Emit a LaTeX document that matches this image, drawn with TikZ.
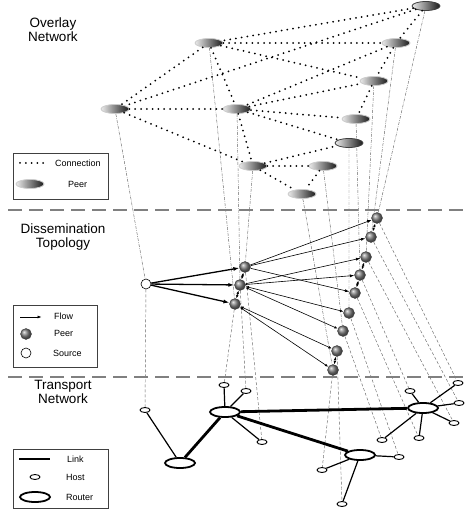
\documentclass[tikz,border=0pt]{standalone}
\usepackage{fontspec}
\setmainfont{Liberation Sans}
\usetikzlibrary{arrows.meta,shapes.geometric,backgrounds}

\tikzset{
  peer/.style={ellipse, minimum width=28pt, minimum height=9pt, inner sep=0pt,
    left color=black!8, right color=black!90, draw=black!20, line width=0.8pt},
  hlpeer/.style={peer, draw=black!75},
  dpeer/.style={circle, minimum size=11pt, inner sep=0pt, ball color=black!50,
    draw=black!75, line width=0.4pt},
  srcnode/.style={circle, minimum size=10pt, inner sep=0pt, draw, fill=white, line width=0.6pt},
  host/.style={ellipse, minimum width=10pt, minimum height=5pt, inner sep=0pt,
    draw, fill=white, line width=0.9pt},
  router/.style={ellipse, minimum width=30pt, minimum height=10pt, inner sep=0pt,
    draw, fill=white, line width=1.8pt},
  conn/.style={line width=2pt, dash pattern=on 0pt off 5.8pt, line cap=round},
  flow/.style={line width=0.6pt, -{Latex[length=4.5pt,width=3pt]}},
  dflow/.style={line width=0.6pt, {Latex[length=3.5pt,width=2.6pt]}-{Latex[length=3.5pt,width=2.6pt]}},
  bigflow/.style={line width=1.3pt, -{Latex[length=6pt,width=4pt]}},
  upproj/.style={black!60, line width=0.45pt, dash pattern=on 3pt off 1.2pt on 0.6pt off 1.2pt},
  downproj/.style={black!60, line width=0.45pt, dash pattern=on 3pt off 2pt},
  lnk/.style={line width=1.2pt},
  biglnk/.style={line width=2.8pt},
  layersep/.style={black!50, line width=1.5pt, dash pattern=on 14pt off 7pt},
  ttl/.style={align=center, inner sep=0pt, anchor=north, font=\fontsize{13.5}{13.8}\selectfont},
  lbl/.style={inner sep=0pt, anchor=west, font=\fontsize{9}{10}\selectfont},
  keybox/.style={draw=black!75, line width=0.8pt}
}

\begin{document}
\begin{tikzpicture}[x=1pt, y=-1pt]
  \useasboundingbox (0,0) rectangle (466,510);

  \node[ttl] (t1) at (53,18) {Overlay\\Network};
  \node[ttl] (t2) at (63,224) {Dissemination\\Topology};
  \node[ttl] (t3) at (63,380) {Transport\\Network};

  \coordinate (s1a) at (8,210);
  \coordinate (s1b) at (466,210);
  \coordinate (s2a) at (8,377);
  \coordinate (s2b) at (466,377);
  \draw[layersep] (s1a) -- (s1b);
  \draw[layersep] (s2a) -- (s2b);

  \node[hlpeer] (o1) at (426,6) {};
  \node[peer] (o2) at (209,43) {};
  \node[peer] (o3) at (396,43) {};
  \node[peer] (o4) at (115,109) {};
  \node[peer] (o5) at (237,109) {};
  \node[peer] (o6) at (374,81) {};
  \node[peer] (o7) at (356,119) {};
  \node[hlpeer] (o8) at (349,143) {};
  \node[peer] (o9) at (253,166) {};
  \node[peer] (o10) at (323,166) {};
  \node[peer] (o11) at (302,194) {};

  \draw[conn] (o1) -- (o2) (o1) -- (o4) (o1) -- (o3) (o2) -- (o3) (o2) -- (o6)
    (o2) -- (o5) (o2) -- (o4) (o3) -- (o6) (o3) -- (o5) (o5) -- (o6)
    (o6) -- (o7) (o4) -- (o5) (o5) -- (o7) (o5) -- (o8) (o5) -- (o9)
    (o4) -- (o9) (o9) -- (o10) (o9) -- (o8) (o9) -- (o11) (o10) -- (o11);

  \node[srcnode] (s) at (146,284) {};
  \node[dpeer] (d1) at (245,267) {};
  \node[dpeer] (d2) at (240,285) {};
  \node[dpeer] (d3) at (235,304) {};
  \node[dpeer] (r1) at (377,218) {};
  \node[dpeer] (r2) at (371,237) {};
  \node[dpeer] (r3) at (366,257) {};
  \node[dpeer] (r4) at (360,275) {};
  \node[dpeer] (r5) at (355,293) {};
  \node[dpeer] (r6) at (349,313) {};
  \node[dpeer] (r7) at (343,331) {};
  \node[dpeer] (r8) at (337,351) {};
  \node[dpeer] (r9) at (333,370) {};

  \draw[bigflow] (s) -- (d1);
  \draw[bigflow] (s) -- (d2);
  \draw[bigflow] (s) -- (d3);
  \draw[flow] (d1) -- (r1);
  \draw[flow] (d1) -- (r2);
  \draw[flow] (d1) -- (r5);
  \draw[flow] (d2) -- (r3);
  \draw[flow] (d2) -- (r4);
  \draw[dflow] (d2) -- (r6);
  \draw[dflow] (d2) -- (r7);
  \draw[dflow] (d3) -- (r8);
  \draw[dflow] (d3) -- (r9);
  \draw[dflow] (d1) -- (d2);
  \draw[dflow] (d2) -- (d3);
  \draw[dflow] (r1) -- (r2);
  \draw[dflow] (r3) -- (r4);
  \draw[dflow] (r4) -- (r5);
  \draw[dflow] (r8) -- (r9);

  \node[router] (ra) at (180,463) {};
  \node[router] (rb) at (225,412) {};
  \node[router] (rc) at (423,408) {};
  \node[router] (rd) at (360,455) {};
  \node[host] (ha) at (145,410) {};
  \node[host] (hb1) at (224,385) {};
  \node[host] (hb2) at (246,391) {};
  \node[host] (hb3) at (262,442) {};
  \node[host] (hd1) at (322,470) {};
  \node[host] (hd2) at (342,504) {};
  \node[host] (hd3) at (399,457) {};
  \node[host] (hc1) at (410,391) {};
  \node[host] (hc2) at (382,440) {};
  \node[host] (hc3) at (419,438) {};
  \node[host] (hc4) at (454,423) {};
  \node[host] (hc5) at (459,403) {};
  \node[host] (hc6) at (458,383) {};

  \draw[biglnk] (ra) -- (rb) -- (rc);
  \draw[biglnk] (rb) -- (rd);
  \draw[lnk] (ra) -- (ha);
  \draw[lnk] (rb) -- (hb1) (rb) -- (hb2) (rb) -- (hb3);
  \draw[lnk] (rd) -- (hd1) (rd) -- (hd2) (rd) -- (hd3);
  \draw[lnk] (rc) -- (hc1) (rc) -- (hc2) (rc) -- (hc3) (rc) -- (hc4) (rc) -- (hc5) (rc) -- (hc6);

  \begin{scope}[on background layer]
    \draw[upproj] (o1) -- (r1) (o2) -- (d3) (o3) -- (r2) (o4) -- (s) (o5) -- (d2) (o6) -- (r3)
      (o7) -- (r4) (o8) -- (r6) (o9) -- (d1) (o10) -- (r7) (o11) -- (r9);
    \draw[downproj] (s) -- (ha) (d3) -- (hb1) (d2) -- (hb2) (d1) -- (hb3) (r9) -- (hd1)
      (r8) -- (hd2) (r7) -- (hc2) (r6) -- (hd3) (r5) -- (hc3) (r4) -- (hc1)
      (r3) -- (hc4) (r2) -- (hc5) (r1) -- (hc6);
  \end{scope}

  \draw[keybox] (13,153) rectangle (108,199);
  \coordinate (ka) at (20,163);
  \coordinate (kb) at (44,163);
  \draw[conn] (ka) -- (kb);
  \node[lbl] (kc) at (55,163) {Connection};
  \node[peer] (kp) at (30,184) {};
  \node[lbl] (kpl) at (68,184) {Peer};

  \draw[keybox] (13,305) rectangle (97,367);
  \coordinate (kf1) at (20,317);
  \coordinate (kf2) at (42,317);
  \draw[flow, line width=0.9pt] (kf1) -- (kf2);
  \node[lbl] (kfl) at (54,316) {Flow};
  \node[dpeer] (kd) at (26,334) {};
  \node[lbl] (kdl) at (54,333) {Peer};
  \node[srcnode] (ks) at (26,353) {};
  \node[lbl] (ksl) at (53,353) {Source};

  \draw[keybox] (13,449) rectangle (108,508);
  \coordinate (kl1) at (19,459);
  \coordinate (kl2) at (50,459);
  \draw[biglnk] (kl1) -- (kl2);
  \node[lbl] (kll) at (67,459) {Link};
  \node[host] (kh) at (35,477) {};
  \node[lbl] (khl) at (66,477) {Host};
  \node[router] (kr) at (35,497) {};
  \node[lbl] (krl) at (66,497) {Router};
\end{tikzpicture}
\end{document}
